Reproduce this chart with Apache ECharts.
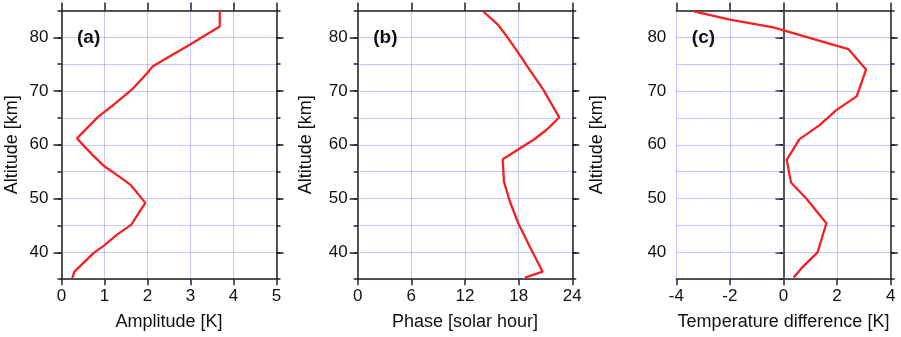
<!DOCTYPE html>
<html>
<head>
<meta charset="utf-8">
<script src="https://cdn.jsdelivr.net/npm/echarts@6/dist/echarts.min.js"></script>
<style>
  html, body { margin: 0; padding: 0; background: #fff; }
  #main { width: 901px; height: 337px; }
</style>
</head>
<body>
<div id="main"></div>
<script>
// (a) amplitude profile
const altA = [85, 82, 78.7, 76.2, 74.5, 73.4, 70.3, 67.5, 65.2, 61.2, 59.8, 57.9, 56.1, 55, 52.6, 49.2, 47.6, 45.1, 43.3, 41.2, 39.9, 36.4, 35.2];
const ampA = [3.68, 3.68, 3.0, 2.46, 2.11, 2.0, 1.64, 1.22, 0.85, 0.36, 0.52, 0.75, 0.98, 1.18, 1.6, 1.95, 1.82, 1.62, 1.29, 0.98, 0.75, 0.3, 0.25];
// (b) phase profile
const altB = [84.8, 82.3, 80.2, 77.1, 74.3, 70.25, 65.1, 62.8, 60.9, 57.3, 53.1, 49.4, 45.4, 41.0, 36.4, 35.3];
const phaseB = [14.05, 15.7, 16.66, 17.96, 19.08, 20.75, 22.54, 21.13, 19.63, 16.21, 16.36, 17.03, 17.96, 19.26, 20.68, 18.7];
// (c) temperature difference
const altC = [84.8, 83.3, 81.85, 77.8, 74.0, 69.0, 66.5, 63.7, 61.0, 57.2, 53.0, 50.0, 45.4, 40.0, 37.3, 35.3];
const diffC = [-3.34, -2.0, -0.38, 2.42, 3.08, 2.73, 1.98, 1.36, 0.59, 0.12, 0.28, 0.85, 1.6, 1.27, 0.72, 0.38];

const yMajor = [40, 50, 60, 70, 80];
const xTicksA = [0, 1, 2, 3, 4, 5];
const xTicksB = [0, 6, 12, 18, 24];
const xTicksC = [-4, -2, 0, 2, 4];

const panels = [
  { label: '(a)', xs: ampA, ys: altA, ticks: xTicksA, name: 'Amplitude [K]', left: 61.5, width: 215, labGap: 13, nameGap: 40 },
  { label: '(b)', xs: phaseB, ys: altB, ticks: xTicksB, name: 'Phase [solar hour]', left: 357.7, width: 214.6, labGap: 10, nameGap: 43 },
  { label: '(c)', xs: diffC, ys: altC, ticks: xTicksC, name: 'Temperature difference [K]', left: 676.3, width: 214.4, labGap: 10, nameGap: 70 }
];

const font = 'Liberation Sans, Arial, sans-serif';
const frame = { show: true, lineStyle: { color: '#222', width: 1.5 } };
const gridLine = { show: true, lineStyle: { color: '#8f8fff', type: [1, 1], width: 1 } };

const grid = [], xAxis = [], yAxis = [], series = [], title = [];

panels.forEach((p, i) => {
  grid.push({ left: p.left, width: p.width, top: 10.4, height: 268.8 });
  const lo = p.ticks[0], hi = p.ticks[p.ticks.length - 1];
  const step = p.ticks[1] - p.ticks[0];
  // bottom
  xAxis.push({ type: 'value', gridIndex: i, min: lo, max: hi, interval: step, position: 'bottom',
    axisLine: frame, splitLine: gridLine, z: 3,
    axisTick: { show: true, length: 6, lineStyle: { color: '#222', width: 1.5 } },
    axisLabel: { color: '#111', fontSize: 17, fontFamily: font, margin: 9 },
    name: p.name, nameLocation: 'middle', nameGap: 34,
    nameTextStyle: { color: '#111', fontSize: 18, fontFamily: font } });
  // top ticks
  xAxis.push({ type: 'value', gridIndex: i, min: lo, max: hi, interval: step, position: 'top',
    axisLine: frame, splitLine: { show: false }, axisLabel: { show: false }, z: 3,
    axisTick: { show: true, length: 8, lineStyle: { color: '#222', width: 1.5 } } });
  // left, minor ticks + grid lines every 5 km
  yAxis.push({ type: 'value', gridIndex: i, min: 35, max: 85, interval: 5, position: 'left',
    axisLine: frame, splitLine: gridLine, axisLabel: { show: false }, z: 3,
    axisTick: { show: true, length: 4, lineStyle: { color: '#222', width: 1.5 } } });
  // left, major ticks + labels
  yAxis.push({ type: 'value', gridIndex: i, min: 35, max: 85, interval: 5, position: 'left',
    axisLine: { show: false }, splitLine: { show: false },
    axisTick: { show: true, length: 8, customValues: yMajor, lineStyle: { color: '#222', width: 1.5 } },
    axisLabel: { customValues: yMajor, color: '#111', fontSize: 17, fontFamily: font, margin: p.labGap },
    name: 'Altitude [km]', nameLocation: 'middle', nameGap: p.nameGap,
    nameTextStyle: { color: '#111', fontSize: 18, fontFamily: font } });
  // right ticks
  yAxis.push({ type: 'value', gridIndex: i, min: 35, max: 85, interval: 5, position: 'right',
    axisLine: frame, splitLine: { show: false }, axisLabel: { show: false }, z: 3,
    axisTick: { show: true, length: 4, lineStyle: { color: '#222', width: 1.5 } } });
  yAxis.push({ type: 'value', gridIndex: i, min: 35, max: 85, interval: 5, position: 'right',
    axisLine: { show: false }, splitLine: { show: false }, axisLabel: { show: false },
    axisTick: { show: true, length: 7, customValues: yMajor, lineStyle: { color: '#222', width: 1.5 } } });

  const s = {
    type: 'line', xAxisIndex: i * 2, yAxisIndex: i * 4 + 1,
    data: p.xs.map((v, k) => [v, p.ys[k]]),
    showSymbol: false, silent: true, z: 5,
    lineStyle: { color: '#f72020', width: 2.3 }
  };
  if (i === 2) {
    s.markLine = { silent: true, symbol: 'none', label: { show: false },
      lineStyle: { color: '#555', width: 2, type: 'solid' }, data: [{ xAxis: 0 }] };
  }
  series.push(s);
  title.push({ text: p.label, left: p.left + 10.5, top: 23,
    textStyle: { fontSize: 19, fontWeight: 'bold', color: '#111', fontFamily: font } });
});

const chart = echarts.init(document.getElementById('main'));
chart.setOption({ animation: false, backgroundColor: '#fff', title, grid, xAxis, yAxis, series });
</script>
</body>
</html>
